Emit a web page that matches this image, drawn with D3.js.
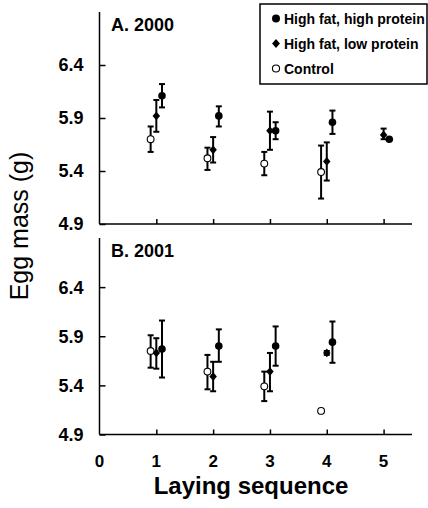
<!DOCTYPE html>
<html>

<head>
    <title>Egg mass</title>
    <style>
        body { margin: 0; background: #fff; }
        text { font-family: "Liberation Sans", Arial, sans-serif; }
    </style>
</head>

<body>
    <div id="my_dataviz"></div>

<script src="https://d3js.org/d3.v7.min.js"></script>
<script>

    // laying sequence ticks
    var xTicks = [0, 1, 2, 3, 4, 5];
    var yTicks = [4.9, 5.4, 5.9, 6.4];

    // A. 2000 - position on x, mean, lower and upper end of the error bar
    var a_hfhp_x = [1.1, 2.1, 3.1, 4.1, 5.1];
    var a_hfhp = [6.11, 5.92, 5.78, 5.86, 5.70];
    var a_hfhp_lo = [6.00, 5.82, 5.70, 5.75, 5.70];
    var a_hfhp_hi = [6.22, 6.01, 5.86, 5.97, 5.70];

    var a_hflp_x = [1.0, 2.0, 3.0, 4.0, 5.0];
    var a_hflp = [5.92, 5.60, 5.78, 5.49, 5.74];
    var a_hflp_lo = [5.77, 5.48, 5.60, 5.31, 5.70];
    var a_hflp_hi = [6.07, 5.72, 5.96, 5.67, 5.80];

    var a_ctrl_x = [0.9, 1.9, 2.9, 3.9];
    var a_ctrl = [5.70, 5.52, 5.47, 5.39];
    var a_ctrl_lo = [5.58, 5.41, 5.36, 5.14];
    var a_ctrl_hi = [5.82, 5.62, 5.58, 5.64];

    // B. 2001
    var b_hfhp_x = [1.1, 2.1, 3.1, 4.1];
    var b_hfhp = [5.77, 5.80, 5.80, 5.84];
    var b_hfhp_lo = [5.48, 5.64, 5.60, 5.63];
    var b_hfhp_hi = [6.06, 5.97, 6.00, 6.05];

    var b_hflp_x = [1.0, 2.0, 3.0, 4.0];
    var b_hflp = [5.73, 5.49, 5.54, 5.73];
    var b_hflp_lo = [5.57, 5.34, 5.34, 5.71];
    var b_hflp_hi = [5.88, 5.64, 5.73, 5.75];

    var b_ctrl_x = [0.9, 1.9, 2.9, 3.9];
    var b_ctrl = [5.75, 5.54, 5.39, 5.14];
    var b_ctrl_lo = [5.58, 5.36, 5.24, 5.12];
    var b_ctrl_hi = [5.91, 5.71, 5.54, 5.16];

    var legendNames = ["High fat, high protein", "High fat, low protein", "Control"];

    function rows(xs, m, lo, hi) {
        return xs.map(function (d, i) { return { x: d, y: m[i], lo: lo[i], hi: hi[i] }; });
    }

    var width = 428, height = 508;

    var svg = d3.select("#my_dataviz")
        .append("svg")
        .attr("width", width)
        .attr("height", height);

    var x = d3.scaleLinear()
        .domain([0, 5.5])
        .range([99.5, 412]);

    var panels = [
        {
            label: "A. 2000", top: 12, bottom: 224,
            series: [
                { kind: "circle", data: rows(a_ctrl_x, a_ctrl, a_ctrl_lo, a_ctrl_hi) },
                { kind: "diamond", data: rows(a_hflp_x, a_hflp, a_hflp_lo, a_hflp_hi) },
                { kind: "dot", data: rows(a_hfhp_x, a_hfhp, a_hfhp_lo, a_hfhp_hi) }
            ]
        },
        {
            label: "B. 2001", top: 238, bottom: 434.5,
            series: [
                { kind: "circle", data: rows(b_ctrl_x, b_ctrl, b_ctrl_lo, b_ctrl_hi) },
                { kind: "diamond", data: rows(b_hflp_x, b_hflp, b_hflp_lo, b_hflp_hi) },
                { kind: "dot", data: rows(b_hfhp_x, b_hfhp, b_hfhp_lo, b_hfhp_hi) }
            ]
        }
    ];

    // draw one marker of the given kind
    function marker(g, kind, cx, cy, s) {
        if (kind == "dot") {
            g.append("circle").attr("cx", cx).attr("cy", cy).attr("r", 3.8 * s)
                .style("fill", "#000");
        } else if (kind == "circle") {
            g.append("circle").attr("cx", cx).attr("cy", cy).attr("r", 3.4 * s)
                .style("fill", "#fff").style("stroke", "#000").style("stroke-width", 1.1);
        } else {
            g.append("path")
                .attr("d", d3.symbol().type(d3.symbolDiamond2).size(44 * s * s))
                .attr("transform", "translate(" + cx + "," + cy + ") scale(0.9,1.05)")
                .style("fill", "#000");
        }
    }

    panels.forEach(function (p) {
        var y = d3.scaleLinear()
            .domain([4.9, 6.9])
            .range([p.bottom, p.top]);

        var g = svg.append("g");

        // Y axis, ticks pointing inward
        g.append("g")
            .attr("transform", "translate(" + x(0) + ",0)")
            .call(d3.axisRight(y).tickValues(yTicks).tickSize(6).tickFormat(""))
            .call(function (a) {
                a.select(".domain").attr("d", "M0," + p.top + "V" + p.bottom)
                    .style("stroke-width", 1.5);
                a.selectAll(".tick line").style("stroke-width", 1.5);
            });

        g.selectAll(".ylab")
            .data(yTicks)
            .enter()
            .append("text")
            .attr("x", x(0) - 16)
            .attr("y", function (d) { return y(d); })
            .attr("dy", "0.36em")
            .attr("text-anchor", "end")
            .style("font-size", "18px")
            .style("font-weight", "bold")
            .text(function (d) { return d3.format(".1f")(d); });

        // X axis, ticks pointing up
        g.append("g")
            .attr("transform", "translate(0," + p.bottom + ")")
            .call(d3.axisTop(x).tickValues(xTicks.slice(1)).tickSize(5).tickFormat(""))
            .call(function (a) {
                a.select(".domain").attr("d", "M" + x(0) + ",0H" + x(5.5))
                    .style("stroke-width", 1.5);
                a.selectAll(".tick line").style("stroke-width", 1.5);
            });

        // panel title
        g.append("text")
            .attr("x", 111)
            .attr("y", p.top + 19)
            .style("font-size", "18px")
            .style("font-weight", "bold")
            .text(p.label);

        // error bars + markers
        p.series.forEach(function (s) {
            s.data.forEach(function (d) {
                if (y(d.lo) - y(d.hi) > 2) {
                    g.append("line")
                        .attr("x1", x(d.x)).attr("x2", x(d.x))
                        .attr("y1", y(d.hi)).attr("y2", y(d.lo))
                        .style("stroke", "#000").style("stroke-width", 2);
                }
                [d.hi, d.lo].forEach(function (v) {
                    g.append("line")
                        .attr("x1", x(d.x) - 3).attr("x2", x(d.x) + 3)
                        .attr("y1", y(v)).attr("y2", y(v))
                        .style("stroke", "#000").style("stroke-width", 2);
                });
                marker(g, s.kind, x(d.x), y(d.y), 1);
            });
        });
    });

    // x tick labels
    svg.selectAll(".xlab")
        .data(xTicks)
        .enter()
        .append("text")
        .attr("x", function (d) { return x(d); })
        .attr("y", 467)
        .attr("text-anchor", "middle")
        .style("font-size", "17px")
        .style("font-weight", "bold")
        .text(function (d) { return d; });

    // axis titles
    svg.append("text")
        .attr("x", 251)
        .attr("y", 494)
        .attr("text-anchor", "middle")
        .style("font-size", "24px")
        .style("font-weight", "bold")
        .text("Laying sequence");

    svg.append("text")
        .attr("transform", "translate(28,226) rotate(-90)")
        .attr("text-anchor", "middle")
        .style("font-size", "25px")
        .text("Egg mass (g)");

    // legend
    var legend = svg.append("g");
    legend.append("rect")
        .attr("x", 260).attr("y", 4)
        .attr("width", 167).attr("height", 80)
        .style("fill", "#fff").style("stroke", "#000").style("stroke-width", 1.5);

    var legendKinds = ["dot", "diamond", "circle"];
    legendNames.forEach(function (name, i) {
        var ly = 18.5 + i * 25;
        marker(legend, legendKinds[i], 276, ly, 1.05);
        legend.append("text")
            .attr("x", 284)
            .attr("y", ly)
            .attr("dy", "0.36em")
            .style("font-size", "14px")
            .style("font-weight", "bold")
            .text(name);
    });

</script>
</body>

</html>
